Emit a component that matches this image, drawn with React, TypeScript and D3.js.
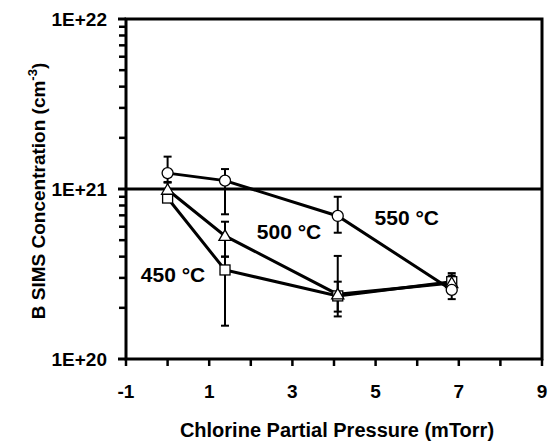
import React from "react";
import * as d3 from "d3";

const pressures = [0, 1.38, 4.09, 6.83];

const temps = ["450 °C", "500 °C", "550 °C"];
const shapes = ["square", "triangle", "circle"];

const conc450 = [0.885e21, 0.334e21, 0.235e21, 0.285e21];
const low450 = [0.86e21, 0.157e21, 0.178e21, 0.26e21];
const high450 = [0.91e21, 0.4e21, 0.404e21, 0.32e21];

const conc500 = [0.99e21, 0.53e21, 0.24e21, 0.28e21];
const low500 = [0.95e21, 0.4e21, 0.19e21, 0.26e21];
const high500 = [1.09e21, 0.642e21, 0.285e21, 0.31e21];

const conc550 = [1.24e21, 1.12e21, 0.694e21, 0.255e21];
const low550 = [1.1e21, 0.71e21, 0.553e21, 0.225e21];
const high550 = [1.55e21, 1.31e21, 0.9e21, 0.3e21];

const xTicks = [-1, 0, 1, 2, 3, 4, 5, 6, 7, 8, 9];
const xLabels = [-1, 1, 3, 5, 7, 9];
const yLabels = [1e20, 1e21, 1e22];
const yLabelText = ["1E+20", "1E+21", "1E+22"];

const W = 557;
const H = 444;
const margin = { top: 19, right: 15, bottom: 85, left: 126 };
const font = "'Liberation Sans', Arial, Helvetica, sans-serif";

const x = d3.scaleLinear().domain([-1, 9]).range([margin.left, W - margin.right]);
const y = d3.scaleLog().domain([1e20, 1e22]).range([H - margin.bottom, margin.top]);

const series = [
  { name: temps[0], shape: shapes[0], v: conc450, lo: low450, hi: high450 },
  { name: temps[1], shape: shapes[1], v: conc500, lo: low500, hi: high500 },
  { name: temps[2], shape: shapes[2], v: conc550, lo: low550, hi: high550 },
];

// label anchors (pressure, concentration) for the temperature texts
const labelPos = [
  { x: 0.13, v: 0.283e21 },
  { x: 2.92, v: 0.51e21 },
  { x: 5.75, v: 0.61e21 },
];

function Marker({ shape, cx, cy }: { shape: string; cx: number; cy: number }) {
  const st = { fill: "#fff", stroke: "#000", strokeWidth: 1.3 };
  if (shape === "circle") return <circle cx={cx} cy={cy} r={5.5} {...st} />;
  if (shape === "square") return <rect x={cx - 5} y={cy - 5} width={10} height={10} {...st} />;
  const sym = d3.symbol(d3.symbolTriangle, 64)();
  return <path d={sym || ""} transform={`translate(${cx},${cy + 1})`} {...st} />;
}

export default function App() {
  const line = d3
    .line<number>()
    .x((_, i) => x(pressures[i]))
    .y((d) => y(d));

  const minorTicks: number[] = [];
  for (const dec of [1e20, 1e21]) for (let k = 2; k <= 9; k++) minorTicks.push(dec * k);

  const x0 = x(-1);
  const x1 = x(9);
  const yb = y(1e20);
  const yt = y(1e22);

  return (
    <svg
      width={W}
      height={H}
      style={{ position: "absolute", left: 0, top: 0, background: "#fff" }}
      fontFamily={font}
      fontWeight="bold"
    >
      {/* frame */}
      <rect x={x0} y={yt} width={x1 - x0} height={yb - yt} fill="none" stroke="#000" strokeWidth={3} />
      <line x1={x0} x2={x1} y1={y(1e21)} y2={y(1e21)} stroke="#000" strokeWidth={3} />

      {/* y ticks */}
      {minorTicks.map((t) => (
        <line key={t} x1={x0 - 7} x2={x0} y1={y(t)} y2={y(t)} stroke="#000" strokeWidth={2.5} />
      ))}
      {yLabels.map((t, i) => (
        <g key={t}>
          <line x1={x0 - 8} x2={x0} y1={y(t)} y2={y(t)} stroke="#000" strokeWidth={3} />
          <text x={x0 - 19} y={y(t)} dy="0.36em" textAnchor="end" fontSize={19}>
            {yLabelText[i]}
          </text>
        </g>
      ))}

      {/* x ticks */}
      {xTicks.map((t) => (
        <line key={t} x1={x(t)} x2={x(t)} y1={yb} y2={yb + 7} stroke="#000" strokeWidth={2.5} />
      ))}
      {xLabels.map((t) => (
        <text key={t} x={x(t)} y={yb + 39} textAnchor="middle" fontSize={19}>
          {t}
        </text>
      ))}

      {/* axis titles */}
      <text x={337} y={437} textAnchor="middle" fontSize={20}>
        Chlorine Partial Pressure (mTorr)
      </text>
      <text transform={`translate(45,${(yt + yb) / 2 + 2}) rotate(-90)`} textAnchor="middle" fontSize={19}>
        B SIMS Concentration (cm
        <tspan dy={-8} fontSize={13}>-3</tspan>
        <tspan dy={8}>)</tspan>
      </text>

      {/* data lines */}
      {series.map((s) => (
        <path key={s.name} d={line(s.v) || ""} fill="none" stroke="#000" strokeWidth={3} />
      ))}

      {/* error bars */}
      {series.map((s) =>
        s.v.map((_, i) => {
          const px = x(pressures[i]);
          return (
            <g key={s.name + i} stroke="#000" strokeWidth={2}>
              <line x1={px} x2={px} y1={y(s.lo[i])} y2={y(s.hi[i])} />
              <line x1={px - 4} x2={px + 4} y1={y(s.lo[i])} y2={y(s.lo[i])} />
              <line x1={px - 4} x2={px + 4} y1={y(s.hi[i])} y2={y(s.hi[i])} />
            </g>
          );
        })
      )}

      {/* markers */}
      {series.map((s) =>
        s.v.map((v, i) => <Marker key={s.name + "m" + i} shape={s.shape} cx={x(pressures[i])} cy={y(v)} />)
      )}

      {/* temperature labels */}
      {series.map((s, i) => (
        <text key={s.name + "l"} x={x(labelPos[i].x)} y={y(labelPos[i].v)} textAnchor="middle" fontSize={21}>
          {s.name}
        </text>
      ))}
    </svg>
  );
}
